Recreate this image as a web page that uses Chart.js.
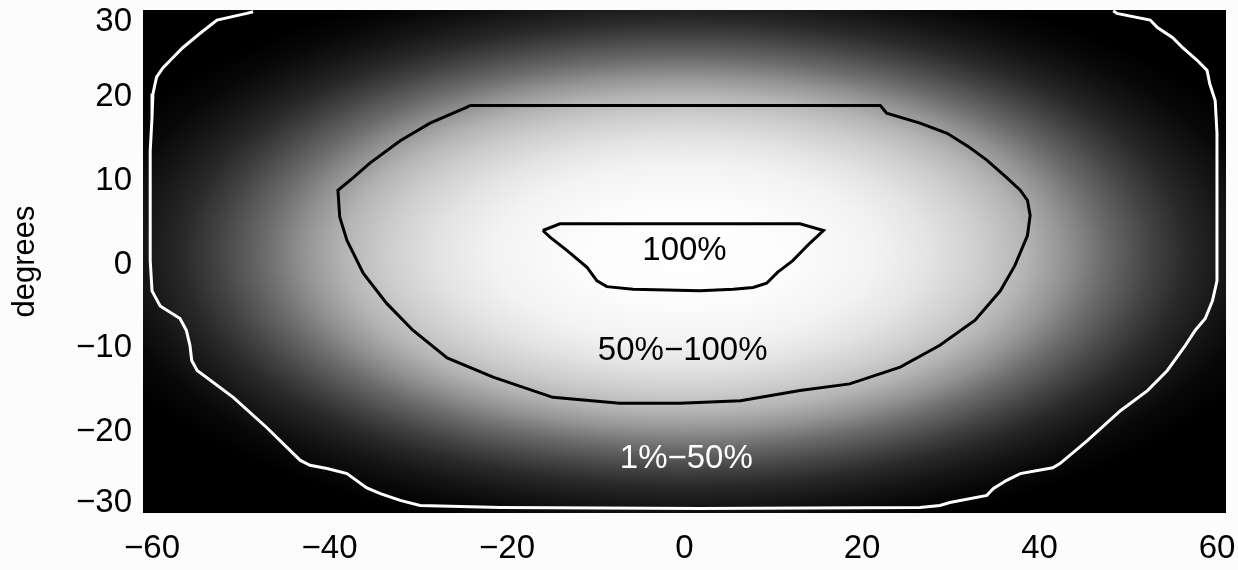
<!DOCTYPE html>
<html>
<head>
<meta charset="utf-8">
<script src="https://cdn.jsdelivr.net/npm/chart.js@4.4.1/dist/chart.umd.min.js"></script>
<style>
  html, body { margin: 0; padding: 0; background: #fcfcfc; }
  #wrap { width: 1238px; height: 570px; }
</style>
</head>
<body>
<div id="wrap"><canvas id="chart" width="1238" height="570"></canvas></div>
<script>
// Axis ticks (degrees)
const xTicks = [-60, -40, -20, 0, 20, 40, 60];
const yTicks = [-30, -20, -10, 0, 10, 20, 30];

// Contour paths as [x, y] in degrees
const outerContour = [
  [-47.8, 29.8], [-48.5, 29.6], [-51.8, 28.8], [-53.7, 27.2], [-55.6, 25.5],
  [-56.7, 24.3], [-57.8, 23.1], [-58.5, 22.0], [-58.9, 20.0], [-59.0, 17.2],
  [-59.2, 13.2], [-59.2, 7.3], [-59.2, 0.1], [-59.0, -3.5], [-58.1, -5.3],
  [-55.9, -6.8], [-55.2, -8.2], [-54.8, -10.0], [-54.6, -11.8], [-54.0, -13.0],
  [-50.0, -16.2], [-46.3, -19.8], [-42.6, -23.7], [-41.5, -24.3], [-39.6, -24.7],
  [-37.4, -25.3], [-35.2, -27.0], [-33.7, -27.7], [-31.5, -28.5], [-29.3, -29.1],
  [-20.4, -29.35], [1.7, -29.45], [26.1, -29.35], [28.3, -29.1], [29.4, -28.75],
  [33.5, -27.9], [34.2, -27.1], [35.7, -26.1], [37.2, -25.3], [40.8, -24.6],
  [41.6, -24.1], [44.6, -21.4], [48.3, -17.8], [51.3, -15.4], [53.5, -13.0],
  [55.5, -10.0], [56.6, -8.2], [57.7, -6.8], [58.5, -4.7], [59.0, -2.3],
  [59.0, 7.3], [59.0, 15.3], [58.8, 19.2], [58.2, 21.2], [57.9, 22.8],
  [56.8, 24.0], [55.2, 25.5], [54.1, 26.7], [52.4, 27.9], [51.6, 28.8],
  [47.9, 29.6], [47.5, 29.9]
];

const middleContour = [
  [-23.8, 18.6], [21.7, 18.6], [22.4, 17.7], [26.1, 16.5], [29.1, 15.3],
  [31.6, 13.6], [33.5, 12.1], [35.7, 10.0], [37.2, 8.5], [38.0, 7.3],
  [38.3, 5.5], [38.0, 3.1], [36.6, -0.5], [35.0, -3.5], [32.2, -7.0],
  [28.3, -10.0], [23.9, -12.6], [18.3, -14.6], [12.8, -15.4], [6.2, -16.6],
  [-0.5, -16.9], [-7.2, -16.9], [-14.6, -16.2], [-21.2, -13.8], [-26.3, -11.5],
  [-30.1, -8.2], [-33.0, -5.0], [-35.6, -1.4], [-37.4, 2.5], [-38.2, 5.3],
  [-38.4, 8.5], [-36.7, 10.0], [-34.9, 11.7], [-31.5, 14.4], [-28.2, 16.5],
  [-24.1, 18.4], [-23.8, 18.6]
];

const innerContour = [
  [-15.7, 3.7], [-13.8, 4.5], [12.8, 4.5], [15.4, 3.7], [13.9, 2.2],
  [12.0, 0.1], [10.3, -1.3], [9.1, -2.6], [7.6, -3.1], [5.4, -3.3],
  [1.7, -3.5], [-5.7, -3.3], [-8.6, -3.0], [-9.7, -2.3], [-10.8, -0.7],
  [-13.0, 1.3], [-14.9, 2.9], [-15.7, 3.7]
];

// Region labels and where they sit (degrees)
const regionLabels = ['100%', '50%\u2212100%', '1%\u221250%'];
const regionLabelX = [0.0, -0.2, 0.2];
const regionLabelY = [1.3, -10.7, -23.6];

const FONT = "'Liberation Sans', Arial, sans-serif";
const toPoints = arr => arr.map(([x, y]) => ({ x, y }));
const minusSign = v => (v < 0 ? '\u2212' + Math.abs(v) : String(v));

// Elliptical grey shading of the field, centred on the beam axis
const fieldShading = {
  id: 'fieldShading',
  beforeDatasetsDraw(chart) {
    const { ctx, chartArea: a, scales: { x, y } } = chart;
    const centre = { x: 0, y: 1 };
    const reach = 1.15;               // shading fades out slightly past the outer contour
    const cx = x.getPixelForValue(centre.x);
    const cy = y.getPixelForValue(centre.y);
    const rx = x.getPixelForValue(centre.x + 60 * reach) - cx;
    const ry = cy - y.getPixelForValue(centre.y + 30 * reach);
    const ramp = [
      [0.00, 255], [0.20, 252], [0.35, 243], [0.45, 228], [0.55, 205],
      [0.63, 180], [0.70, 148], [0.78, 105], [0.86, 68], [0.93, 40],
      [1.00, 22], [1.07, 8], [1.15, 0]
    ];
    ctx.save();
    ctx.beginPath();
    ctx.rect(a.left, a.top, a.right - a.left, a.bottom - a.top);
    ctx.clip();
    ctx.fillStyle = '#000';
    ctx.fillRect(a.left, a.top, a.right - a.left, a.bottom - a.top);
    ctx.translate(cx, cy);
    ctx.scale(1, ry / rx);
    const g = ctx.createRadialGradient(0, 0, 0, 0, 0, rx);
    ramp.forEach(([r, v]) => g.addColorStop(r / reach, `rgb(${v},${v},${v})`));
    ctx.fillStyle = g;
    ctx.fillRect(-rx * 1.5, -rx * 1.5, rx * 3, rx * 3);
    ctx.restore();
  }
};

// Region labels inside the contours, tick labels and the axis title
const textLayer = {
  id: 'textLayer',
  afterDatasetsDraw(chart) {
    const { ctx, scales: { x, y } } = chart;
    ctx.save();
    ctx.font = `33px ${FONT}`;
    ctx.textAlign = 'center';
    ctx.textBaseline = 'middle';
    regionLabels.forEach((t, i) => {
      ctx.fillStyle = i === 2 ? '#ffffff' : '#000000';
      ctx.fillText(t, x.getPixelForValue(regionLabelX[i]), y.getPixelForValue(regionLabelY[i]));
    });
    ctx.restore();
  },
  afterDraw(chart) {
    const { ctx, chartArea: a, scales: { x, y } } = chart;
    ctx.save();
    ctx.fillStyle = '#000';
    ctx.font = `33px ${FONT}`;
    ctx.textBaseline = 'middle';

    ctx.textAlign = 'right';
    yTicks.forEach(v => {
      const py = Math.min(Math.max(y.getPixelForValue(v) + 3, a.top + 12), a.bottom - 10);
      ctx.fillText(minusSign(v), a.left - 11, py);
    });

    ctx.textAlign = 'center';
    xTicks.forEach(v => {
      const px = x.getPixelForValue(v) - v * 0.15;
      ctx.fillText(minusSign(v), px, a.bottom + 36);
    });

    ctx.font = `31px ${FONT}`;
    ctx.translate(25, (a.top + a.bottom) / 2);
    ctx.rotate(-Math.PI / 2);
    ctx.fillText('degrees', 0, 0);
    ctx.restore();
  }
};

const lineStyle = { showLine: true, pointRadius: 0, borderWidth: 3, tension: 0, fill: false };

new Chart(document.getElementById('chart'), {
  type: 'scatter',
  data: {
    datasets: [
      { label: '1%', data: toPoints(outerContour), borderColor: '#ffffff', ...lineStyle },
      { label: '50%', data: toPoints(middleContour), borderColor: '#000000', ...lineStyle },
      { label: '100%', data: toPoints(innerContour), borderColor: '#000000', ...lineStyle }
    ]
  },
  options: {
    responsive: false,
    animation: false,
    layout: { padding: { left: 143, top: 10, right: 12, bottom: 57 } },
    scales: {
      x: { type: 'linear', min: -60, max: 60, display: false },
      y: { type: 'linear', min: -30, max: 30, display: false }
    },
    plugins: { legend: { display: false }, tooltip: { enabled: false } }
  },
  plugins: [fieldShading, textLayer]
});
</script>
</body>
</html>
